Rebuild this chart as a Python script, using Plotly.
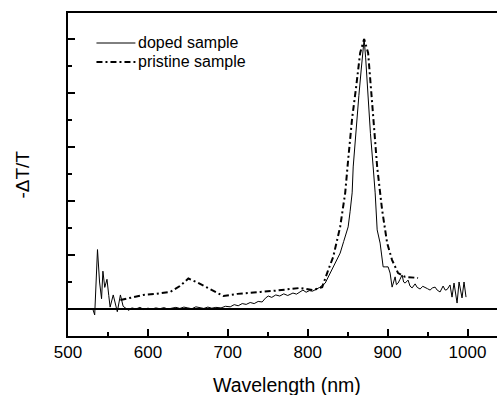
import plotly.graph_objects as go

# Doped sample (solid thin line)
doped_wl = [531, 533.4, 536.9, 539.5, 542, 543.7, 546, 548.8, 551, 552.7, 556.6, 559, 561.7, 565.6, 569, 575.8,
            580, 585, 590, 595, 600, 605, 610, 615, 620, 625, 630, 635, 640, 645, 650, 655, 660, 665, 670, 675,
            680, 685, 691.5, 697, 703, 708, 713, 718, 723, 728, 733, 738, 743, 747, 750.6, 755, 760, 765, 770,
            775, 781.5, 786, 790, 794, 798, 802, 806, 810, 815, 821.9, 826, 831.9, 836, 840.6, 845, 850.6, 853,
            855.6, 856.9, 859, 861.9, 864, 866.9, 868.5, 870.6, 872.5, 875.6, 878.5, 881.9, 884.4, 886.9, 888.5,
            890.6, 892.5, 894.4, 897, 900.6, 903.1, 905.6, 907.5, 909.4, 911, 913.1, 915.5, 918.1, 920, 921.9,
            925.6, 928, 930.6, 934.4, 937, 940.6, 944, 946.9, 950, 953.1, 956, 959.4, 962, 965.6, 969.4, 972,
            974.4, 978.1, 980.6, 983.1, 986.9, 989.4, 993.1, 995.6, 998.1]
doped_val = [0.0, -0.022, 0.22, 0.1, 0.038, 0.14, 0.08, 0.11, 0.05, 0.007, 0.052, 0.02, -0.01, 0.052, 0.01, -0.005,
             0.004, 0.0, 0.006, -0.002, 0.003, 0.0, 0.004, 0.001, 0.005, 0.0, 0.003, 0.006, 0.002, 0.007, 0.004,
             0.001, 0.008, 0.004, 0.002, 0.007, 0.003, 0.006, 0.004, 0.01, 0.008, 0.016, 0.012, 0.02, 0.017, 0.024,
             0.02, 0.028, 0.026, 0.04, 0.048, 0.043, 0.052, 0.048, 0.056, 0.05, 0.059, 0.055, 0.064, 0.07, 0.062,
             0.068, 0.066, 0.072, 0.08, 0.096, 0.12, 0.152, 0.175, 0.207, 0.25, 0.304, 0.36, 0.43, 0.526, 0.61,
             0.70, 0.79, 0.885, 0.95, 1.0, 0.93, 0.774, 0.65, 0.526, 0.43, 0.293, 0.27, 0.244, 0.2, 0.156, 0.156,
             0.156, 0.133, 0.081, 0.1, 0.119, 0.09, 0.096, 0.11, 0.126, 0.1, 0.096, 0.107, 0.085, 0.078, 0.093,
             0.08, 0.074, 0.084, 0.081, 0.075, 0.07, 0.078, 0.081, 0.07, 0.063, 0.085, 0.07, 0.072, 0.089, 0.044,
             0.096, 0.022, 0.1, 0.041, 0.1, 0.044, 0.081]

# Pristine sample (dash-dot thick line)
pristine_wl = [565.6, 580, 594, 610, 628, 640, 650.6, 662, 674.4, 685, 694.4, 711.9, 725, 740.6, 756.9, 775,
               790.6, 806.9, 818.1, 825.6, 831.9, 840.6, 846.9, 850.6, 855.6, 860.6, 865.6, 870.6, 875.6, 880.6,
               886.9, 893.1, 899.4, 905.6, 913.1, 921.9, 938.1]
pristine_val = [0.033, 0.042, 0.052, 0.056, 0.063, 0.085, 0.113, 0.098, 0.078, 0.062, 0.048, 0.056, 0.058, 0.063,
                0.067, 0.072, 0.078, 0.07, 0.081, 0.144, 0.193, 0.304, 0.43, 0.552, 0.707, 0.822, 0.948, 1.0,
                0.948, 0.763, 0.526, 0.367, 0.244, 0.181, 0.133, 0.119, 0.115]

series_names = ["doped sample", "pristine sample"]
x_ticks = [500, 600, 700, 800, 900, 1000]

FONT = "Liberation Sans, Arial, sans-serif"
DASHDOT = "6px,3px,2px,3px"

W, H = 497, 395
L, R, T, B = 67.5, 0, 13, 59
PW, PH = W - L - R, H - T - B


def px2paper_x(px):
    return (px - L) / PW


def px2paper_y(py):
    return (H - B - py) / PH


fig = go.Figure()
fig.add_trace(go.Scatter(x=doped_wl, y=doped_val, mode="lines", name=series_names[0],
                         line=dict(color="black", width=1)))
fig.add_trace(go.Scatter(x=pristine_wl, y=pristine_val, mode="lines", name=series_names[1],
                         line=dict(color="black", width=2, dash=DASHDOT)))

# manual legend
shapes = []
annotations = []
for i, (name, lw, dash) in enumerate(zip(series_names, [1, 2], ["solid", DASHDOT])):
    yy = px2paper_y(43 + 19 * i)
    shapes.append(dict(type="line", xref="paper", yref="paper",
                       x0=px2paper_x(96), x1=px2paper_x(135), y0=yy, y1=yy,
                       line=dict(color="black", width=lw, dash=dash)))
    annotations.append(dict(text=name, xref="paper", yref="paper", x=px2paper_x(136), y=yy,
                            xanchor="left", yanchor="middle", showarrow=False,
                            font=dict(size=16, family=FONT, color="black")))

annotations.append(dict(text="Wavelength (nm)", xref="paper", yref="paper",
                        x=px2paper_x(287), y=px2paper_y(384.5),
                        xanchor="center", yanchor="middle", showarrow=False,
                        font=dict(size=19.5, family=FONT, color="black")))
annotations.append(dict(text="-ΔT/T", xref="paper", yref="paper",
                        x=px2paper_x(21), y=px2paper_y(175),
                        xanchor="center", yanchor="middle", showarrow=False, textangle=-90,
                        font=dict(size=19, family=FONT, color="black")))

fig.update_layout(
    width=W, height=H,
    margin=dict(l=L, r=R, t=T, b=B),
    paper_bgcolor="white", plot_bgcolor="white",
    font=dict(family=FONT, color="black"),
    showlegend=False,
    shapes=shapes,
    annotations=annotations,
)
fig.update_xaxes(
    range=[500, 500 + PW / 0.8], tickvals=x_ticks, ticktext=[str(v) for v in x_ticks],
    ticks="inside", ticklen=7, tickwidth=2, tickcolor="black",
    minor=dict(dtick=50, tick0=0, ticks="inside", ticklen=4, tickwidth=2, tickcolor="black"),
    showline=True, linewidth=2, linecolor="black", mirror=True,
    showgrid=False, zeroline=False, automargin=False,
    tickfont=dict(size=17, family=FONT),
)
fig.update_yaxes(
    range=[-0.1, 1.096], tick0=0, dtick=0.2, showticklabels=False,
    ticks="inside", ticklen=7, tickwidth=2, tickcolor="black",
    minor=dict(dtick=0.1, ticks="inside", ticklen=4, tickwidth=2, tickcolor="black"),
    showline=True, linewidth=2, linecolor="black", mirror=False,
    showgrid=False, zeroline=True, zerolinewidth=2, zerolinecolor="black", automargin=False,
)

fig.write_html("out.html", config={"displayModeBar": False},
               post_script="document.body.style.margin='0';document.body.style.padding='0';")
